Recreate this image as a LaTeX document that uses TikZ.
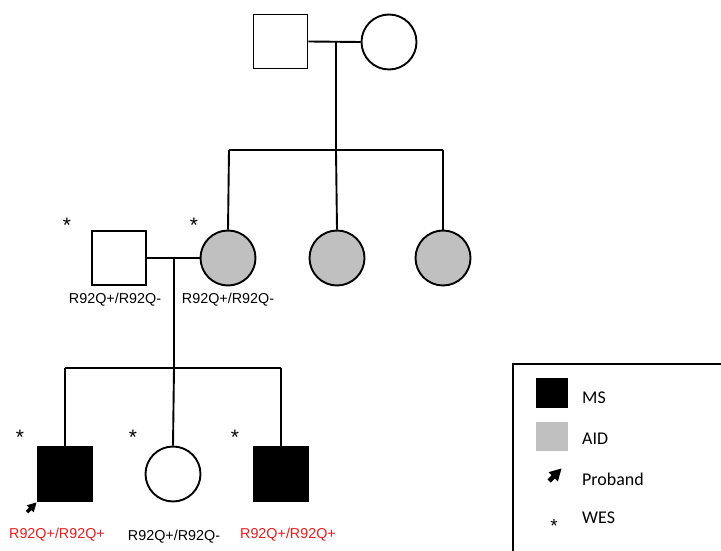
\documentclass[tikz,border=0pt]{standalone}
\usepackage{fontspec}
\setmainfont{Liberation Sans}
\newfontfamily\legendfont{Carlito}
\definecolor{aidgray}{RGB}{192,192,192}
\definecolor{redtxt}{RGB}{232,28,28}
\tikzset{
  probarrow/.pic={\fill (0,0) -- (-2.8,9.9) -- (-5.1,7.6) -- (-8.3,10.8) -- (-10.8,8.3) -- (-7.6,5.1) -- (-9.9,2.8) -- cycle;}
}
\begin{document}
\begin{tikzpicture}[x=1bp,y=-1bp,
  male/.style={draw, line width=1.9bp, rectangle, minimum size=54bp, inner sep=0pt},
  female/.style={draw, line width=1.9bp, circle, minimum size=55bp, inner sep=0pt},
  ms/.style={fill=black},
  aid/.style={fill=aidgray},
  link/.style={line width=1.9bp},
  geno/.style={font=\fontsize{14.4}{16}\selectfont, inner sep=0pt},
  redgeno/.style={geno, text=redtxt},
  wes/.style={font=\fontsize{21}{22}\selectfont, inner sep=0pt},
  legtext/.style={font=\legendfont\fontsize{18}{20}\selectfont, anchor=west, inner sep=0pt}
]
\useasboundingbox (0,0) rectangle (721,551);

% generation I
\node[male] (gf) at (280.5,41.5) {};
\node[female] (gm) at (389,42) {};
\coordinate (c1) at (336,42);
\coordinate (s1) at (336,150);
\coordinate (s1l) at (229,150);
\coordinate (s1r) at (443,150);

% generation II
\node[male] (fa) at (119,258) {};
\node[female, aid] (mo) at (228,258) {};
\node[female, aid] (au1) at (337,258) {};
\node[female, aid] (au2) at (443,258) {};
\coordinate (c2) at (174,258);
\coordinate (s2) at (174,368);
\coordinate (s2l) at (65,368);
\coordinate (s2r) at (281,368);

% generation III
\node[male, ms] (p1) at (65,474) {};
\node[female] (d1) at (173,474) {};
\node[male, ms] (p3) at (281,474) {};

% connectors
\draw[link] (gf.east) -- (gm.west);
\draw[link] (c1) -- (s1);
\draw[link] (s1l) -- (s1r);
\draw[link] (s1l) -- (mo.north);
\draw[link] (s1) -- (au1.north);
\draw[link] (s1r) -- (au2.north);
\draw[link] (fa.east) -- (mo.west);
\draw[link] (c2) -- (s2);
\draw[link] (s2l) -- (s2r);
\draw[link] (s2l) -- (p1.north);
\draw[link] (s2) -- (d1.north);
\draw[link] (s2r) -- (p3.north);

% proband arrow
\coordinate (pa1) at (36.5,502.5);
\pic at (pa1) {probarrow};

% stars
\node[wes] (w1) at (67,225) {*};
\node[wes] (w2) at (194,225) {*};
\node[wes] (w3) at (20,437) {*};
\node[wes] (w4) at (133,437) {*};
\node[wes] (w5) at (235,437) {*};

% genotypes
\node[geno] (g1) at (115,300) {R92Q+/R92Q-};
\node[geno] (g2) at (228,300) {R92Q+/R92Q-};
\node[redgeno] (g3) at (57,535) {R92Q+/R92Q+};
\node[geno] (g4) at (174,537) {R92Q+/R92Q-};
\node[redgeno] (g5) at (288,535) {R92Q+/R92Q+};

% legend
\draw[line width=1.5bp] (513,364) rectangle (740,575);
\node[rectangle, ms, minimum width=32bp, minimum height=30bp, inner sep=0pt] (lms) at (552,393) {};
\node[rectangle, aid, minimum width=32bp, minimum height=29bp, inner sep=0pt] (laid) at (552,436.5) {};
\coordinate (la1) at (561.5,468.5);
\pic[scale=1.3] at (la1) {probarrow};
\node[wes, font=\fontsize{19}{20}\selectfont] (lw) at (554,526) {*};
\node[legtext] (tms) at (582,398) {MS};
\node[legtext] (taid) at (582,439) {AID};
\node[legtext] (tpb) at (582,479) {Proband};
\node[legtext] (twes) at (582,518) {WES};
\end{tikzpicture}
\end{document}
